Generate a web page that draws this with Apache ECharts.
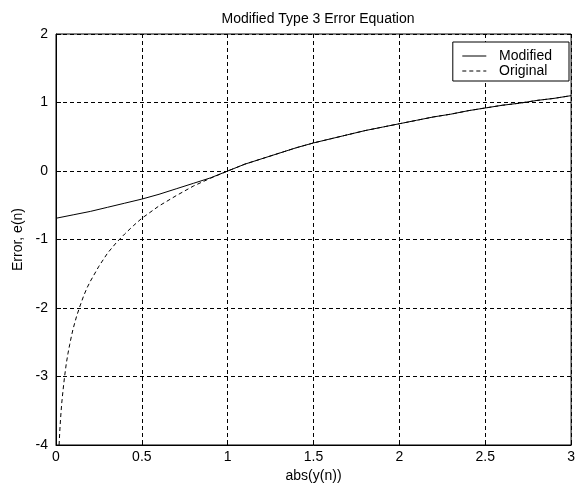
<!DOCTYPE html>
<html>
<head>
<meta charset="utf-8">
<script src="https://cdn.jsdelivr.net/npm/echarts@6/dist/echarts.min.js"></script>
<style>
  html, body { margin: 0; padding: 0; background: #fff; }
  #chart { width: 578px; height: 492px; }
</style>
</head>
<body>
<div id="chart"></div>
<script>
// values
const modX = [0, 0.1, 0.2, 0.3, 0.4, 0.5, 0.6, 0.7, 0.8, 0.9, 1, 1.1, 1.2, 1.3, 1.4, 1.5,
  1.6, 1.7, 1.8, 1.9, 2, 2.1, 2.2, 2.3, 2.4, 2.5, 2.6, 2.7, 2.8, 2.9, 3];
const modY = [-0.69, -0.64, -0.59, -0.53, -0.47, -0.41, -0.34, -0.26, -0.18, -0.10, 0, 0.10, 0.18, 0.26, 0.34, 0.41,
  0.47, 0.53, 0.59, 0.64, 0.69, 0.74, 0.79, 0.83, 0.88, 0.92, 0.96, 0.99, 1.03, 1.06, 1.10];

const origX = [0.018, 0.022, 0.027, 0.033, 0.041, 0.05, 0.06, 0.07, 0.08, 0.09, 0.1, 0.12, 0.14, 0.16,
  0.18, 0.2, 0.25, 0.3, 0.35, 0.4, 0.45, 0.5, 0.6, 0.7, 0.8, 0.9, 1, 1.1, 1.2, 1.3, 1.4, 1.5,
  1.6, 1.7, 1.8, 1.9, 2, 2.1, 2.2, 2.3, 2.4, 2.5, 2.6, 2.7, 2.8, 2.9, 3];
const origY = [-4.0, -3.8, -3.6, -3.4, -3.2, -3.0, -2.81, -2.66, -2.53, -2.41, -2.3, -2.12, -1.97, -1.83,
  -1.71, -1.61, -1.39, -1.2, -1.05, -0.92, -0.8, -0.69, -0.51, -0.36, -0.22, -0.105, 0, 0.10, 0.18, 0.26, 0.34, 0.41,
  0.47, 0.53, 0.59, 0.64, 0.69, 0.74, 0.79, 0.83, 0.88, 0.92, 0.96, 0.99, 1.03, 1.06, 1.10];

const xTicks = [0, 0.5, 1, 1.5, 2, 2.5, 3];
const yTicks = [-4, -3, -2, -1, 0, 1, 2];

const font = 'Liberation Sans, Arial, sans-serif';

const chart = echarts.init(document.getElementById('chart'));

const pair = (xs, ys) => xs.map((x, i) => [x, ys[i]]);

chart.setOption({
  animation: false,
  title: {
    text: 'Modified Type 3 Error Equation',
    left: 313,
    top: 7,
    textAlign: 'center',
    textStyle: {fontFamily: font, fontSize: 14, fontWeight: 'normal', color: '#000'}
  },
  grid: {
    left: 56, right: 5, top: 34, bottom: 47,
    show: true, borderColor: '#000', borderWidth: 1, backgroundColor: '#fff'
  },
  legend: {
    orient: 'vertical',
    right: 9, top: 42,
    padding: [7, 17, 3, 9],
    itemGap: 1,
    itemWidth: 24, itemHeight: 14,
    backgroundColor: '#fff',
    borderColor: '#000', borderWidth: 1, borderRadius: 0,
    itemStyle: {opacity: 0},
    lineStyle: {width: 1},
    textStyle: {fontFamily: font, fontSize: 14, color: '#000'},
    formatter: name => '  ' + name,
    data: ['Modified', 'Original']
  },
  xAxis: {
    type: 'value',
    min: 0, max: 3, interval: 0.5,
    name: 'abs(y(n))',
    nameLocation: 'middle',
    nameGap: 19,
    nameTextStyle: {fontFamily: font, fontSize: 14, color: '#000'},
    axisLine: {show: true, onZero: false, lineStyle: {color: '#000'}},
    axisTick: {inside: true, length: 5, lineStyle: {color: '#000'}},
    axisLabel: {
      fontFamily: font, fontSize: 14, color: '#000', margin: 5,
      formatter: v => xTicks.includes(v) ? String(v) : ''
    },
    splitLine: {show: true, lineStyle: {color: '#000', type: [4, 3], width: 1}}
  },
  yAxis: {
    type: 'value',
    min: -4, max: 2, interval: 1,
    name: 'Error, e(n)',
    nameLocation: 'middle',
    nameGap: 31,
    nameTextStyle: {fontFamily: font, fontSize: 14, color: '#000'},
    axisLine: {show: true, onZero: false, lineStyle: {color: '#000'}},
    axisTick: {inside: true, length: 5, lineStyle: {color: '#000'}},
    axisLabel: {
      fontFamily: font, fontSize: 14, color: '#000', margin: 8,
      formatter: v => yTicks.includes(v) ? String(v) : ''
    },
    splitLine: {show: true, lineStyle: {color: '#000', type: [4, 3], width: 1}}
  },
  series: [
    {
      name: 'Modified',
      type: 'line',
      data: pair(modX, modY),
      symbol: 'none',
      color: '#000',
      lineStyle: {color: '#000', width: 1}
    },
    {
      name: 'Original',
      type: 'line',
      data: pair(origX, origY),
      symbol: 'none',
      color: '#000',
      lineStyle: {color: '#000', width: 1, type: [4, 3]}
    }
  ]
});
</script>
</body>
</html>
